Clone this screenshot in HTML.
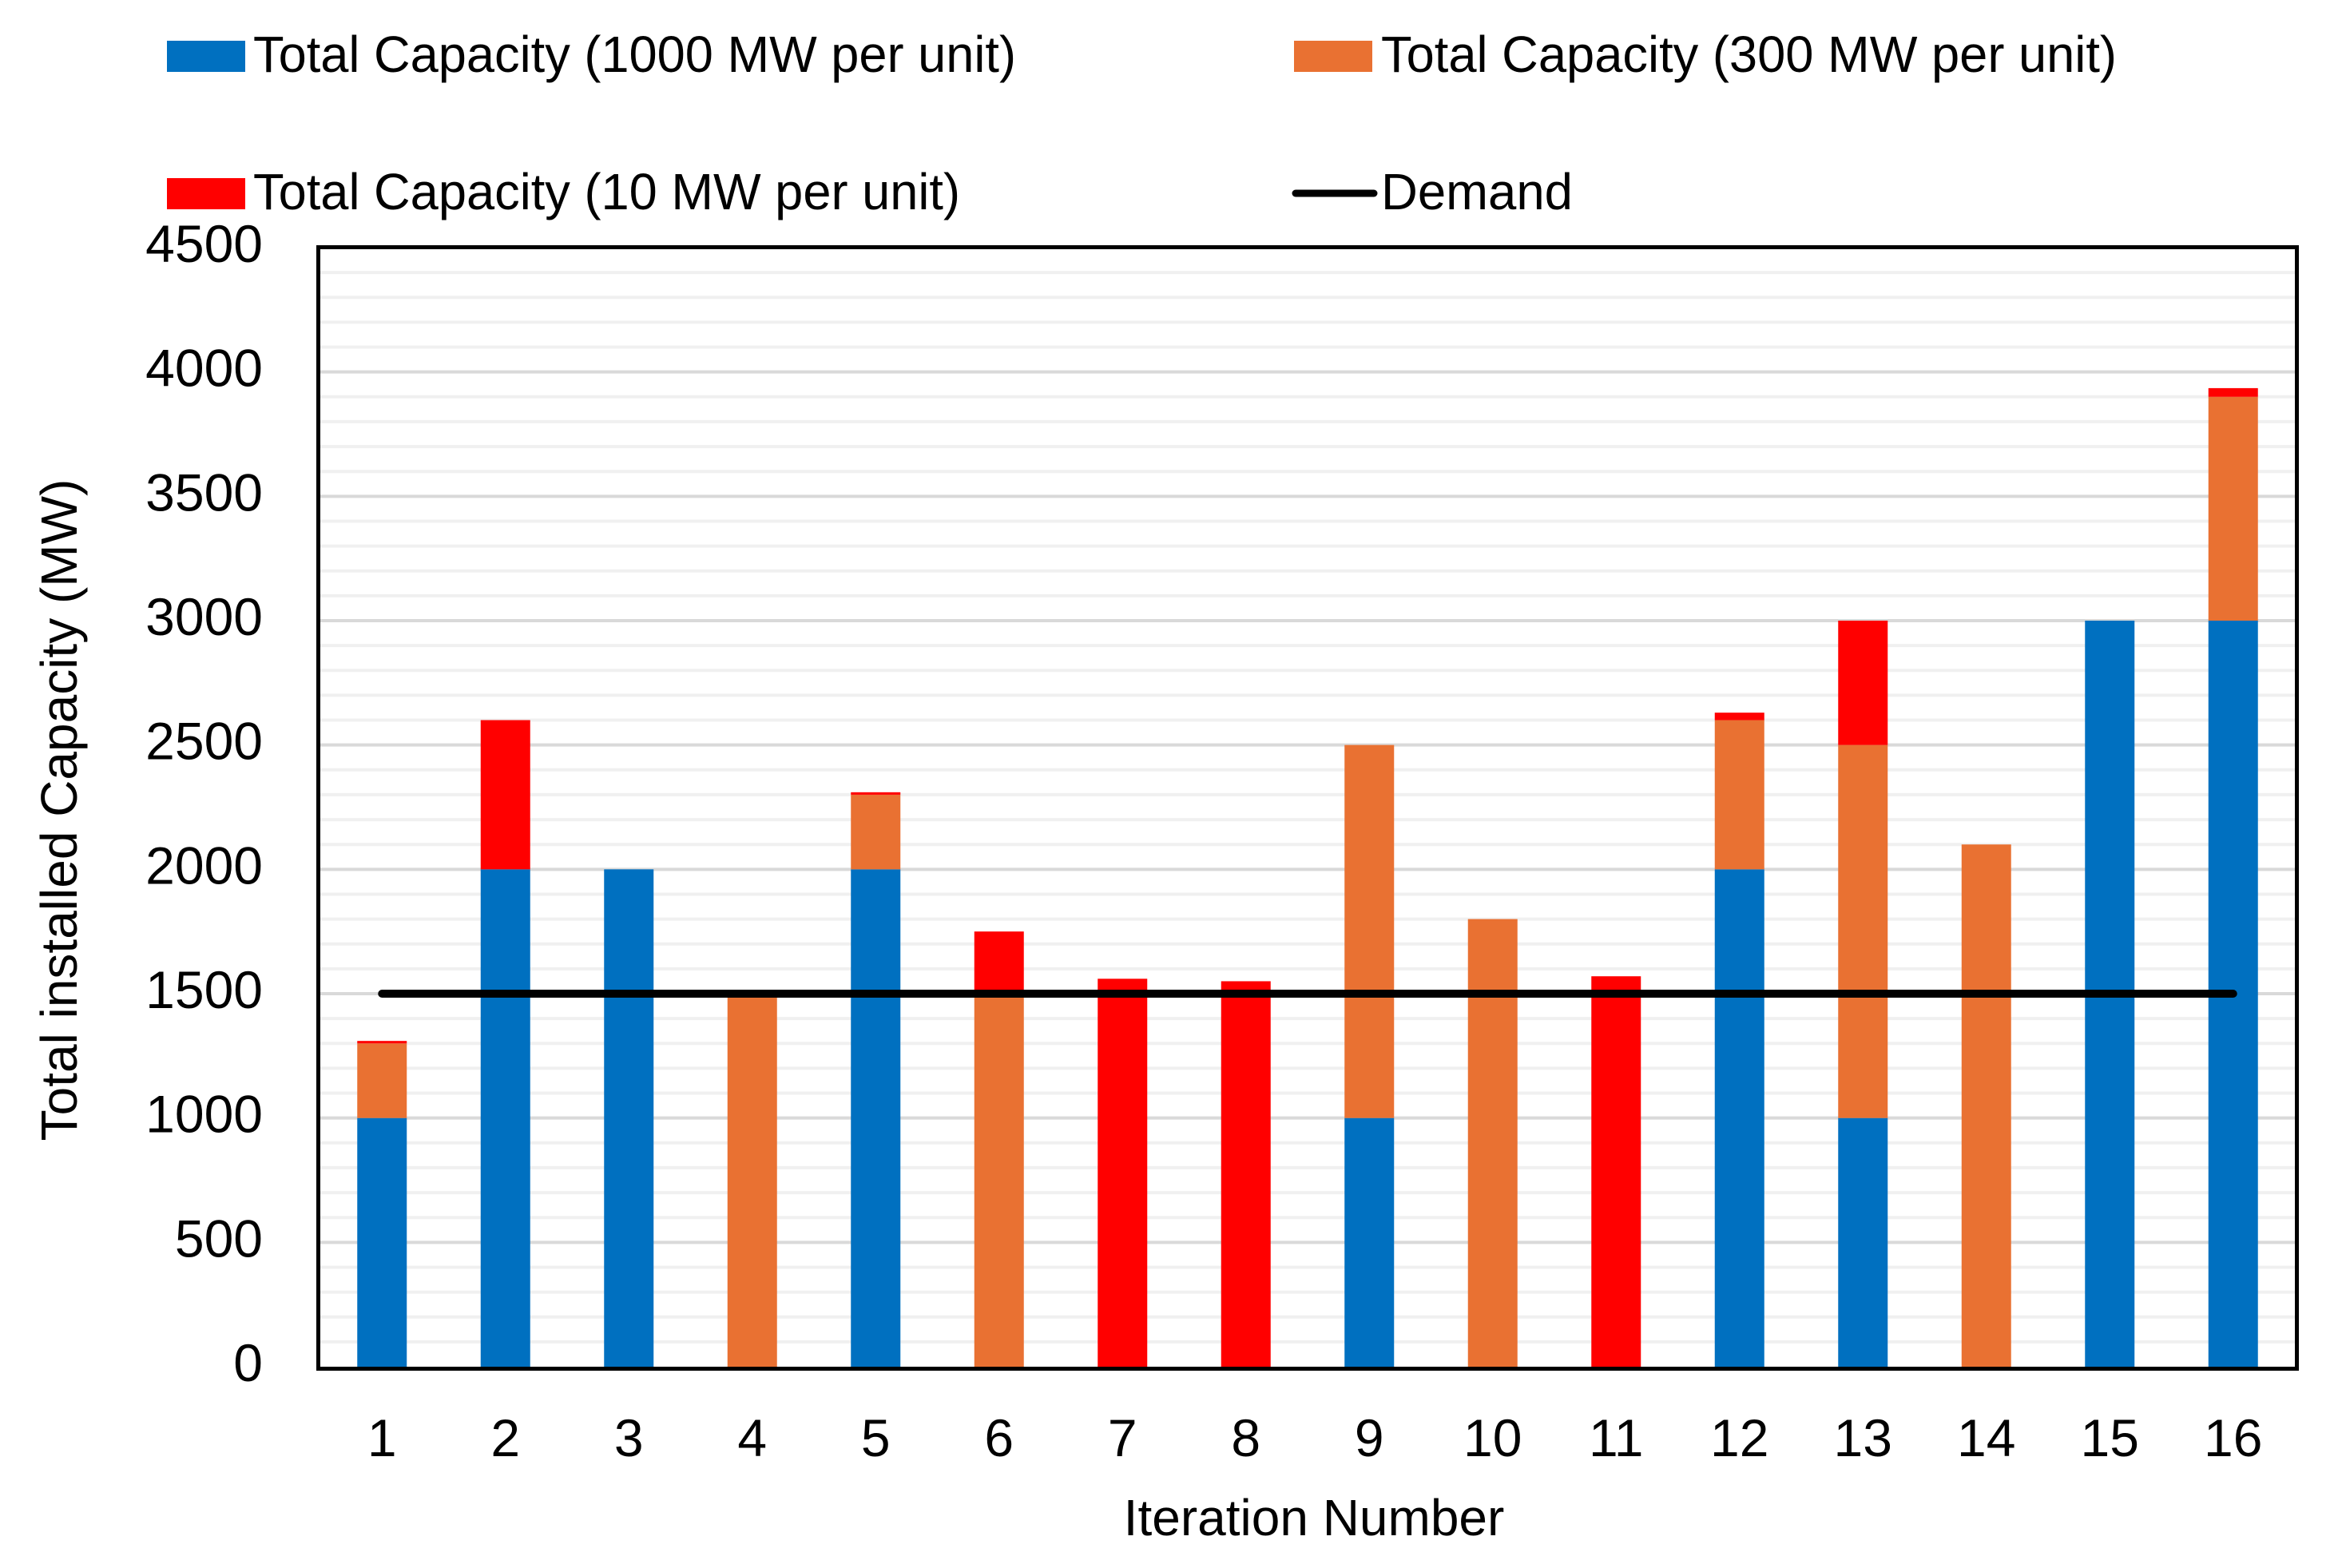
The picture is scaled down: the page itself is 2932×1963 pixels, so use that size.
<!DOCTYPE html>
<html><head><meta charset="utf-8"><style>
html,body{margin:0;padding:0;background:#fff;}
svg{display:block;font-family:"Liberation Sans",sans-serif;}
</style></head><body>
<svg id="chart" width="2932" height="1963" viewBox="0 0 2932 1963" xmlns="http://www.w3.org/2000/svg">
<g id="legend">
 <g>
  <rect x="209" y="51" width="98" height="39" fill="#0070c0"/>
  <text x="317" y="90" font-size="64" textLength="955" lengthAdjust="spacingAndGlyphs">Total Capacity (1000 MW per unit)</text>
 </g>
 <g>
  <rect x="1620" y="51" width="98" height="39" fill="#e97132"/>
  <text x="1729" y="90" font-size="64" textLength="921" lengthAdjust="spacingAndGlyphs">Total Capacity (300 MW per unit)</text>
 </g>
 <g>
  <rect x="209" y="223" width="98" height="39" fill="#ff0000"/>
  <text x="317" y="262" font-size="64" textLength="885" lengthAdjust="spacingAndGlyphs">Total Capacity (10 MW per unit)</text>
 </g>
 <g>
  <line x1="1622" y1="242" x2="1720" y2="242" stroke="#000" stroke-width="9" stroke-linecap="round"/>
  <text x="1729" y="262" font-size="64" textLength="240" lengthAdjust="spacingAndGlyphs">Demand</text>
 </g>
</g>
<g id="grid"></g>
<g id="bars"></g>
<g id="demand"></g>
<rect x="398.5" y="309.5" width="2477" height="1404" fill="none" stroke="#000" stroke-width="5"/>
<g id="yticks"></g>
<g id="xticks"></g>
<text x="1645" y="1922" font-size="64" text-anchor="middle">Iteration Number</text>
<text transform="translate(96,1014) rotate(-90)" font-size="64" text-anchor="middle">Total installed Capacity (MW)</text>
</svg>
<script>
const categories = ["1","2","3","4","5","6","7","8","9","10","11","12","13","14","15","16"];
const blue1000 = [1000,2000,2000,0,2000,0,0,0,1000,0,0,2000,1000,0,3000,3000];
const orange300 = [300,0,0,1500,300,1500,0,0,1500,1800,0,600,1500,2100,0,900];
const red10 = [10,600,0,0,10,250,1560,1550,0,0,1570,30,500,0,0,35];
const demand = [1500,1500];
const yTicks = [0,500,1000,1500,2000,2500,3000,3500,4000,4500];

const NS="http://www.w3.org/2000/svg";
const X0=401, X1=2873, Y0=1711, YMAX=4500, YTOP=310;
const bw=(X1-X0)/categories.length;
function y(v){return Y0-(v/YMAX)*(Y0-YTOP);}
function xc(i){return X0+bw*(i+0.5);}
function mk(tag,attrs,parent){const e=document.createElementNS(NS,tag);for(const k in attrs)e.setAttribute(k,attrs[k]);parent.appendChild(e);return e;}

const grid=document.getElementById('grid');
for(let v=100;v<YMAX;v+=100){
  const major=v%500===0;
  const l=mk('line',{x1:X0,x2:X1,y1:y(v),y2:y(v),stroke:major?'#d9d9d9':'#f0f0f0','stroke-width':4},grid);
  
  
}
const bars=document.getElementById('bars');
const barW=62;
categories.forEach((c,i)=>{
  let base=0;
  [[blue1000,'#0070c0','1000mw'],[orange300,'#e97132','300mw'],[red10,'#ff0000','10mw']].forEach(([arr,col,nm])=>{
    const v=arr[i]; if(!v) return;
    const r=mk('rect',{x:xc(i)-barW/2,y:y(base+v),width:barW,height:y(base)-y(base+v),fill:col},bars);
    
    
    base+=v;
  });
});
const dl=mk('line',{x1:xc(0),x2:xc(categories.length-1),y1:y(demand[0]),y2:y(demand[1]),stroke:'#000','stroke-width':10,'stroke-linecap':'round'},document.getElementById('demand'));



const yt=document.getElementById('yticks');
yTicks.forEach(v=>{
  const t=mk('text',{x:329,y:y(v)+18,'font-size':66,'text-anchor':'end'},yt);
  t.textContent=v;
  
  
});
const xt=document.getElementById('xticks');
categories.forEach((c,i)=>{
  const t=mk('text',{x:xc(i),y:1823,'font-size':66,'text-anchor':'middle'},xt);
  t.textContent=c;
  
  
});
</script>
</body></html>
